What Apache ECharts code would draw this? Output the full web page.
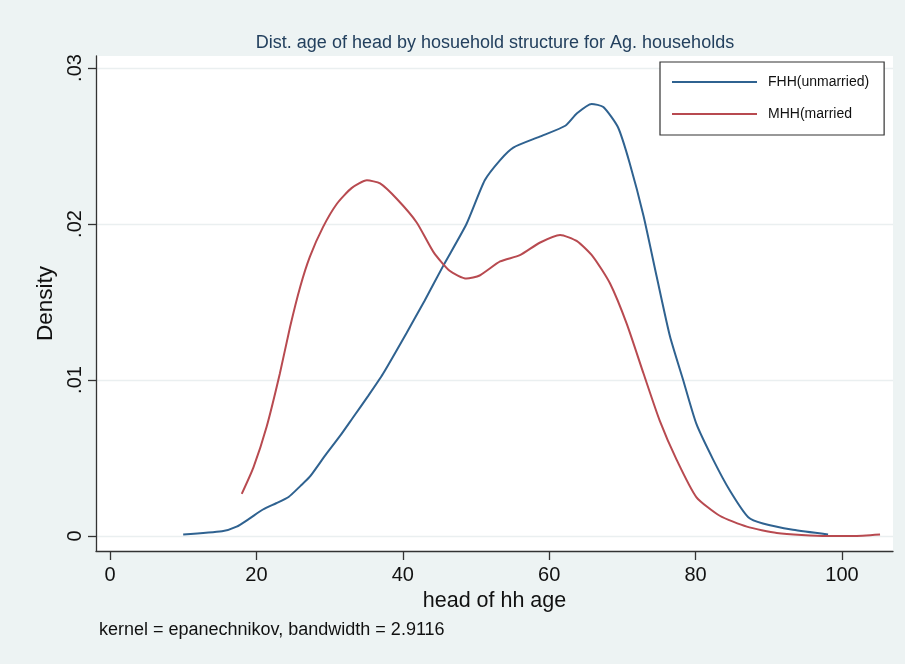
<!DOCTYPE html>
<html>
<head>
<meta charset="utf-8">
<title>Dist. age of head by household structure</title>
<script src="https://cdn.jsdelivr.net/npm/echarts@6/dist/echarts.min.js"></script>
<style>
  html, body { margin: 0; padding: 0; background: #edf3f3; }
  #chart { width: 905px; height: 664px; }
</style>
</head>
<body>
<div id="chart"></div>
<script>
// Kernel density estimates of household head age
const fhhAge = [10, 15.3, 17.3, 19, 20.9, 22.7, 24.4, 26, 27.3, 29.3, 31.4, 33.2, 35.3, 37.3, 40.5, 43, 45.5, 48.7, 51.2, 53.3, 55.1, 58.7, 62.2, 63.8, 65.8, 67.4, 69.4, 71.0, 72.9, 74.7, 76.5, 78.3, 80.1, 82.4, 84.7, 87.2, 89.2, 93.3, 98.1];
const fhhDensity = [0.0001, 0.0003, 0.0006, 0.0011, 0.0017, 0.0021, 0.0025, 0.0032, 0.0038, 0.0051, 0.0064, 0.0076, 0.0090, 0.0104, 0.0130, 0.0151, 0.0173, 0.0200, 0.0228, 0.0241, 0.0249, 0.0256, 0.0263, 0.0271, 0.0277, 0.0275, 0.0262, 0.0239, 0.0205, 0.0166, 0.0128, 0.0100, 0.0072, 0.0049, 0.0029, 0.0012, 0.0008, 0.0004, 0.0001];

const mhhAge = [18.0, 19.6, 21.4, 23.2, 24.6, 26.0, 27.3, 29.1, 31.0, 33.0, 35.1, 36.9, 39.2, 41.9, 44.2, 46.4, 48.7, 50.5, 53.3, 56.0, 58.7, 61.5, 63.8, 66.0, 68.3, 70.6, 72.9, 75.1, 77.4, 80.1, 83.3, 87.0, 91.1, 97.9, 101.5, 105.2];
const mhhDensity = [0.0027, 0.0044, 0.0070, 0.0104, 0.0134, 0.0160, 0.0179, 0.0198, 0.0213, 0.0223, 0.0228, 0.0226, 0.0216, 0.0201, 0.0182, 0.0170, 0.0165, 0.0167, 0.0176, 0.0180, 0.0188, 0.0193, 0.0189, 0.0179, 0.0162, 0.0136, 0.0104, 0.0074, 0.0049, 0.0025, 0.0013, 0.0006, 0.0002, 0.0000, 0.0000, 0.0001];

const seriesNames = ['FHH(unmarried)', 'MHH(married'];
const xTicks = [0, 20, 40, 60, 80, 100];
const yTicks = [0, 0.01, 0.02, 0.03];
const yTickLabels = ['0', '.01', '.02', '.03'];

const zip = (xs, ys) => xs.map((x, i) => [x, ys[i]]);
const FONT = '"Liberation Sans", Arial, sans-serif';

const chart = echarts.init(document.getElementById('chart'), null, { renderer: 'canvas' });

chart.setOption({
  backgroundColor: '#edf3f3',
  animation: false,
  title: {
    text: 'Dist. age of head by hosuehold structure for Ag. households',
    left: 490,
    textAlign: 'center',
    top: 29,
    textStyle: { fontFamily: FONT, fontSize: 18, fontWeight: 'normal', color: '#23405e' }
  },
  grid: {
    left: 96, right: 12, top: 56, bottom: 113,
    show: true, backgroundColor: '#ffffff', borderWidth: 0
  },
  legend: {
    orient: 'vertical',
    left: 660, top: 62,
    backgroundColor: '#ffffff',
    borderColor: '#333333', borderWidth: 1.2, borderRadius: 0,
    padding: [13, 15, 14, 12],
    itemWidth: 85, itemHeight: 14, itemGap: 18,
    icon: 'path://M0,6 L85,6 L85,8 L0,8 Z',
    textStyle: { fontFamily: FONT, fontSize: 14, color: '#111111', padding: [0, 0, 0, 6] },
    data: seriesNames
  },
  xAxis: {
    type: 'value',
    min: -1.91, max: 106.97,
    name: 'head of hh age',
    nameLocation: 'middle',
    nameGap: 38,
    nameTextStyle: { fontFamily: FONT, fontSize: 21.5, color: '#111111' },
    axisLine: { show: true, onZero: false, lineStyle: { color: '#333333', width: 1.3 } },
    axisTick: { show: true, length: 9, customValues: xTicks, lineStyle: { color: '#333333', width: 1.3 } },
    axisLabel: { customValues: xTicks, margin: 14, fontFamily: FONT, fontSize: 20, color: '#111111' },
    splitLine: { show: false }
  },
  yAxis: {
    type: 'value',
    min: -0.00096, max: 0.03077,
    name: 'Density',
    nameLocation: 'middle',
    nameGap: 38,
    nameTextStyle: { fontFamily: FONT, fontSize: 22.5, color: '#111111' },
    axisLine: { show: true, onZero: false, lineStyle: { color: '#333333', width: 1.3 } },
    axisTick: { show: true, length: 8, customValues: yTicks, lineStyle: { color: '#333333', width: 1.3 } },
    axisLabel: {
      customValues: yTicks,
      rotate: 90,
      margin: 11,
      fontFamily: FONT, fontSize: 20, color: '#111111',
      formatter: v => {
        const i = yTicks.findIndex(t => Math.abs(t - v) < 1e-9);
        return i >= 0 ? yTickLabels[i] : '';
      }
    },
    splitLine: { show: true, lineStyle: { color: '#eaeff0', width: 1.3 } }
  },
  graphic: [{
    type: 'text',
    left: 99, top: 621,
    style: {
      text: 'kernel = epanechnikov, bandwidth = 2.9116',
      fontFamily: FONT, fontSize: 18, fill: '#111111'
    }
  }],
  series: [
    {
      name: seriesNames[0],
      type: 'line',
      data: zip(fhhAge, fhhDensity),
      symbol: 'none',
      smooth: 0.2,
      color: '#2f6290',
      lineStyle: { color: '#2f6290', width: 2 }
    },
    {
      name: seriesNames[1],
      type: 'line',
      data: zip(mhhAge, mhhDensity),
      symbol: 'none',
      smooth: 0.2,
      color: '#b84a50',
      lineStyle: { color: '#b84a50', width: 2 }
    }
  ]
});
</script>
</body>
</html>
